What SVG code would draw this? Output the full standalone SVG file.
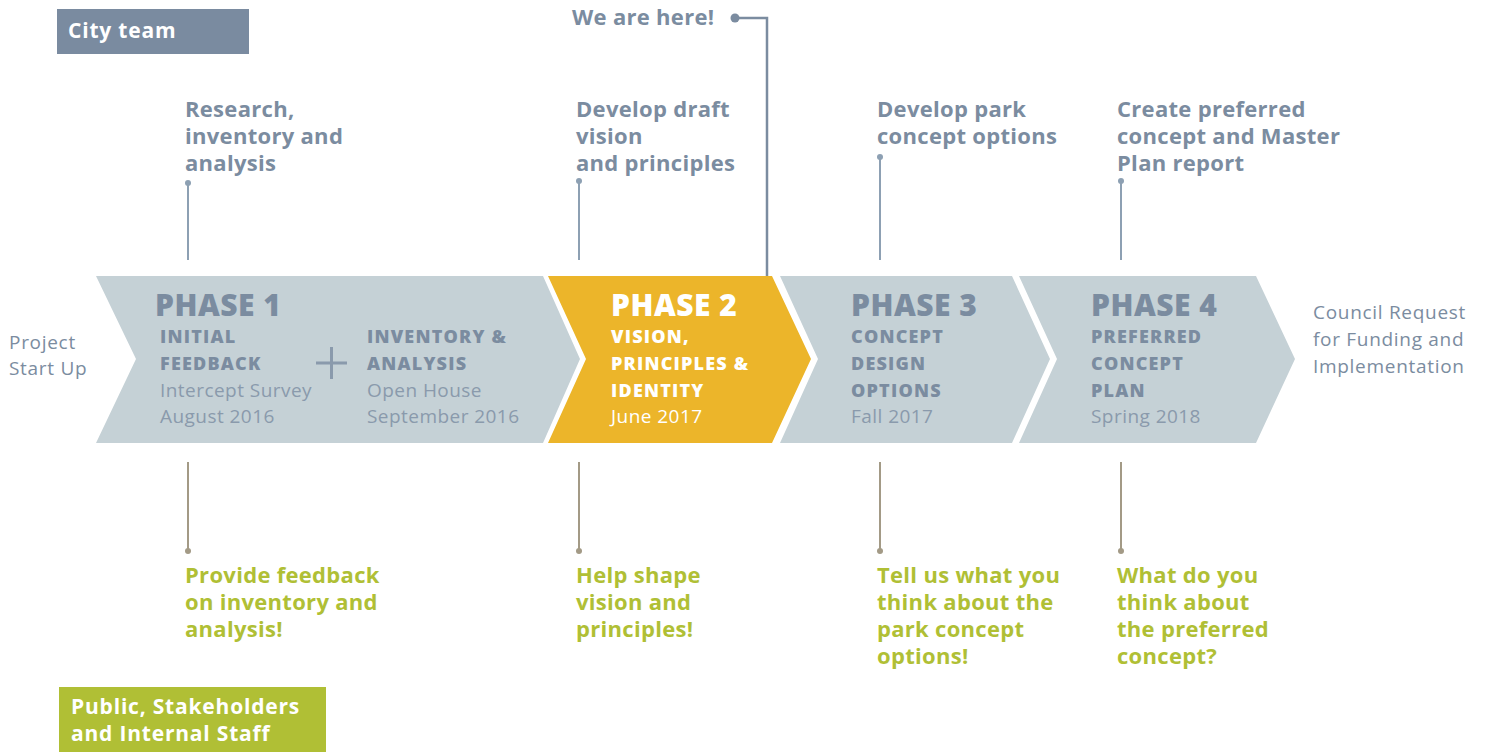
<svg xmlns="http://www.w3.org/2000/svg" width="1485" height="752" viewBox="0 0 1485 752">
<style>
text{font-family:"Open Sans","Liberation Sans",sans-serif}
.lab{font-size:22px;font-weight:700;fill:#7b8ca0;letter-spacing:0.3px}
.grn{font-size:22px;font-weight:700;fill:#b0bf35;letter-spacing:0.3px}
.ph{font-size:30px;font-weight:800;fill:#7b8ca0;letter-spacing:0.5px}
.sub{font-size:18px;font-weight:800;fill:#7b8ca0;letter-spacing:1.2px}
.reg{font-size:19px;font-weight:400;fill:#8a9aac;letter-spacing:0.45px}
.side{font-size:19px;font-weight:400;fill:#7b8ca0;letter-spacing:0.7px}
.w{fill:#ffffff}
.chev{fill:#c5d1d6}
.tl{stroke:#8da0b3;stroke-width:2}
.bl{stroke:#a39a86;stroke-width:2}
.td{fill:#8da0b3}
.bd{fill:#a39a86}
.box{font-size:21px;font-weight:700;fill:#ffffff;letter-spacing:0.8px}
</style>
<g id="legend-city">
<rect x="57" y="9" width="192" height="45" fill="#7a8ba0"/>
<text class="box" x="68" y="38">City team</text>
</g>
<g id="legend-public">
<rect x="59" y="687" width="267" height="65" fill="#b0bf35"/>
<text class="box" x="71" y="714">Public, Stakeholders</text>
<text class="box" x="71" y="741">and Internal Staff</text>
</g>
<g id="start">
<text class="side" x="9" y="349">Project</text>
<text class="side" x="9" y="375">Start Up</text>
</g>
<g id="phase1">
<polygon class="chev" points="96,276 543,276 580,359 543,443 96,443 136,359"/>
<text class="ph" x="155" y="316">PHASE 1</text>
<text class="sub" x="160" y="343">INITIAL</text>
<text class="sub" x="160" y="370">FEEDBACK</text>
<text class="reg" x="160" y="397">Intercept Survey</text>
<text class="reg" x="160" y="423">August 2016</text>
<path d="M316 363H347M331.5 347V379" stroke="#8a9aac" stroke-width="3" fill="none"/>
<text class="sub" x="367" y="343">INVENTORY &amp;</text>
<text class="sub" x="367" y="370">ANALYSIS</text>
<text class="reg" x="367" y="397">Open House</text>
<text class="reg" x="367" y="423">September 2016</text>
</g>
<g id="phase2">
<polygon fill="#ecb52a" points="548,276 772,276 811,359 772,443 548,443 586,359"/>
<text class="ph w" x="611" y="316">PHASE 2</text>
<text class="sub w" x="611" y="343">VISION,</text>
<text class="sub w" x="611" y="370">PRINCIPLES &amp;</text>
<text class="sub w" x="611" y="397">IDENTITY</text>
<text class="reg w" x="611" y="423">June 2017</text>
</g>
<g id="phase3">
<polygon class="chev" points="780,276 1012,276 1050,359 1012,443 780,443 818,359"/>
<text class="ph" x="851" y="316">PHASE 3</text>
<text class="sub" x="851" y="343">CONCEPT</text>
<text class="sub" x="851" y="370">DESIGN</text>
<text class="sub" x="851" y="397">OPTIONS</text>
<text class="reg" x="851" y="423">Fall 2017</text>
</g>
<g id="phase4">
<polygon class="chev" points="1019,276 1256,276 1295,359 1256,443 1019,443 1057,359"/>
<text class="ph" x="1091" y="316">PHASE 4</text>
<text class="sub" x="1091" y="343">PREFERRED</text>
<text class="sub" x="1091" y="370">CONCEPT</text>
<text class="sub" x="1091" y="397">PLAN</text>
<text class="reg" x="1091" y="423">Spring 2018</text>
</g>
<g id="end">
<text class="side" x="1313" y="319">Council Request</text>
<text class="side" x="1313" y="346">for Funding and</text>
<text class="side" x="1313" y="373">Implementation</text>
</g>
<g id="top-labels">
<text class="lab" x="185" y="117">Research,</text>
<text class="lab" x="185" y="144">inventory and</text>
<text class="lab" x="185" y="171">analysis</text>
<text class="lab" x="576" y="117">Develop draft</text>
<text class="lab" x="576" y="144">vision</text>
<text class="lab" x="576" y="171">and principles</text>
<text class="lab" x="877" y="117">Develop park</text>
<text class="lab" x="877" y="144">concept options</text>
<text class="lab" x="1117" y="117">Create preferred</text>
<text class="lab" x="1117" y="144">concept and Master</text>
<text class="lab" x="1117" y="171">Plan report</text>
</g>
<g id="bottom-labels">
<text class="grn" x="185" y="583">Provide feedback</text>
<text class="grn" x="185" y="610">on inventory and</text>
<text class="grn" x="185" y="637">analysis!</text>
<text class="grn" x="576" y="583">Help shape</text>
<text class="grn" x="576" y="610">vision and</text>
<text class="grn" x="576" y="637">principles!</text>
<text class="grn" x="877" y="583">Tell us what you</text>
<text class="grn" x="877" y="610">think about the</text>
<text class="grn" x="877" y="637">park concept</text>
<text class="grn" x="877" y="664">options!</text>
<text class="grn" x="1117" y="583">What do you</text>
<text class="grn" x="1117" y="610">think about</text>
<text class="grn" x="1117" y="637">the preferred</text>
<text class="grn" x="1117" y="664">concept?</text>
</g>
<g id="here">
<text class="lab" x="572" y="25">We are here!</text>
</g>
<g id="connectors">
<line class="tl" x1="188" y1="183" x2="188" y2="260"/><circle class="td" cx="188" cy="183" r="3"/>
<line class="tl" x1="579" y1="181" x2="579" y2="260"/><circle class="td" cx="579" cy="181" r="3"/>
<line class="tl" x1="880" y1="157" x2="880" y2="260"/><circle class="td" cx="880" cy="157" r="3"/>
<line class="tl" x1="1121" y1="181" x2="1121" y2="260"/><circle class="td" cx="1121" cy="181" r="3"/>
<line class="bl" x1="188" y1="462" x2="188" y2="551"/><circle class="bd" cx="188" cy="551" r="3"/>
<line class="bl" x1="579" y1="462" x2="579" y2="551"/><circle class="bd" cx="579" cy="551" r="3"/>
<line class="bl" x1="880" y1="462" x2="880" y2="551"/><circle class="bd" cx="880" cy="551" r="3"/>
<line class="bl" x1="1121" y1="462" x2="1121" y2="551"/><circle class="bd" cx="1121" cy="551" r="3"/>
<path d="M735 18H767V276" fill="none" stroke="#7b8ca0" stroke-width="2.5"/>
<circle cx="735" cy="18" r="4.5" fill="#7b8ca0"/>
</g>
</svg>
